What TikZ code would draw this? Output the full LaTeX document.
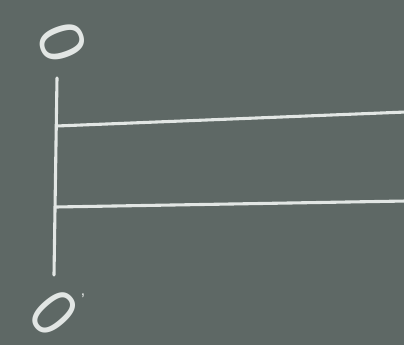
\documentclass[tikz,border=0pt]{standalone}
\usepackage{fontspec}
\setsansfont{Liberation Sans}
\definecolor{board}{RGB}{94,104,101}
\definecolor{chalk}{RGB}{226,230,228}
\begin{document}
\begin{tikzpicture}[x=0.025cm, y=-0.025cm,
  chalkline/.style={draw=chalk, line width=2.2pt, line cap=round},
  every node/.style={text=chalk, font=\sffamily, inner sep=0pt}]
\useasboundingbox (0,0) rectangle (404,345);
\fill[board] (0,0) rectangle (404,345);
% axis
\coordinate (top) at (57,78);
\coordinate (bot) at (54,275);
\draw[chalkline] (top) -- (bot);
% the two lines
\coordinate (a) at (56.5,126);
\coordinate (a2) at (406,112);
\draw[chalkline] (a) -- (a2);
\coordinate (b) at (55.5,207);
\coordinate (b2) at (406,201);
\draw[chalkline] (b) -- (b2);
% labels
\node[font=\sffamily\fontsize{45}{45}\selectfont, rotate=-70, xscale=1.05] (zerotop) at (62,42) {0};
\node[font=\sffamily\fontsize{48}{48}\selectfont, rotate=-49, xscale=0.9] (zerobot) at (54,313) {0};
\node[font=\sffamily\large] (prime) at (83,300) {'};
\end{tikzpicture}
\end{document}
